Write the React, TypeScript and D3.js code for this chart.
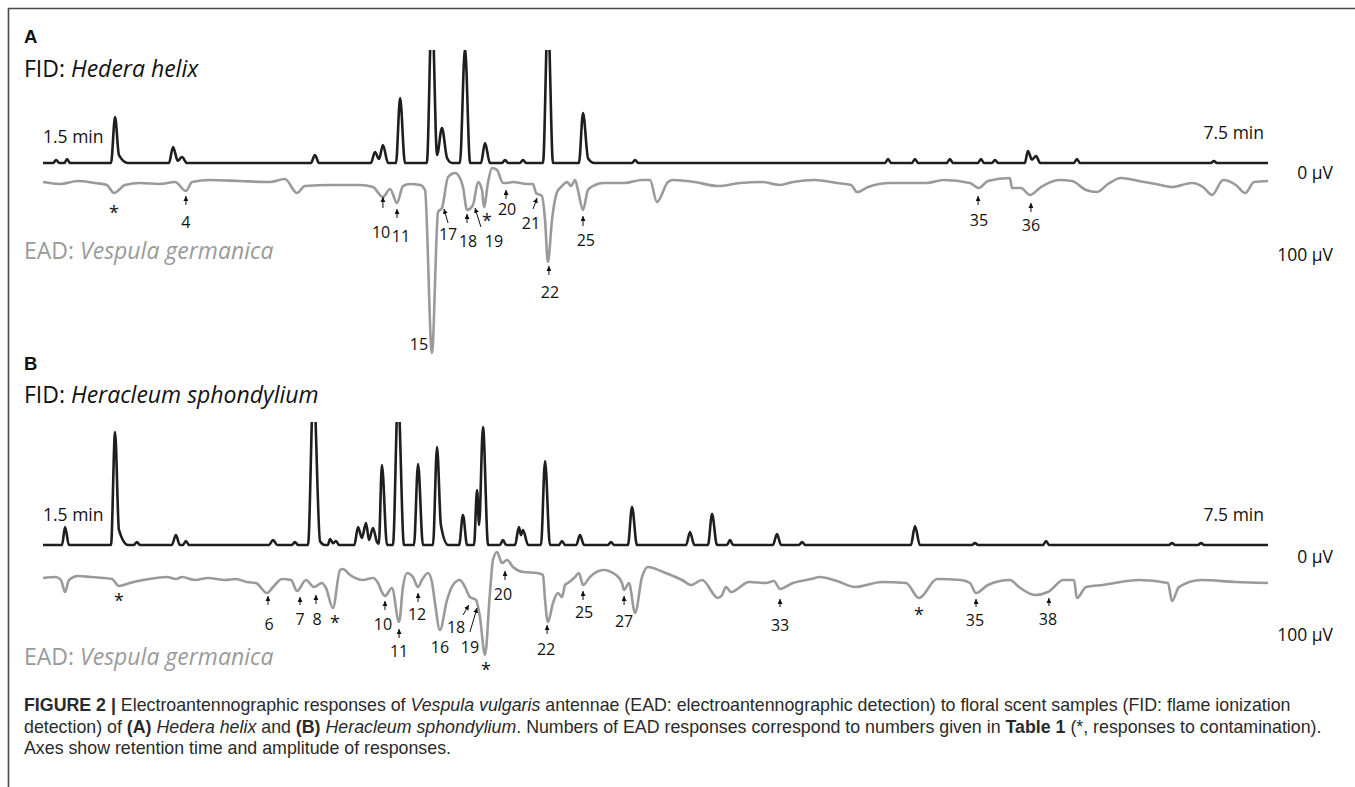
import * as d3 from 'd3';

type Pt = [number, number];
type Note = { label: string; at: Pt; from?: Pt; to?: Pt; anchor?: 'start' | 'middle' | 'end' };

const W = 1355;
const H = 787;

// retention time window (min)
const timeRange: Pt = [1.5, 7.5];
const eadTicks = [0, 100];

// FID signal, relative % (100 = top of the visible trace area)
const fidHedera: Pt[] = [
  [1.5, 0], [1.55, 0], [1.564, 2.7], [1.58, 0], [1.605, 0], [1.618, 3.5], [1.632, 0],
  [1.833, 0], [1.853, 40.7], [1.872, 7], [1.916, 0],
  [2.117, 0], [2.137, 14.2], [2.16, 2], [2.181, 5.3], [2.205, 0],
  [2.812, 0], [2.832, 7.1], [2.852, 0],
  [3.106, 0], [3.126, 9.7], [3.146, 3.5], [3.165, 15.9], [3.19, 0],
  [3.229, 0], [3.249, 57.5], [3.273, 0],
  [3.38, 0], [3.405, 141.6], [3.43, 7.1], [3.454, 31], [3.479, 4.4], [3.503, 0],
  [3.542, 0], [3.567, 101.8], [3.592, 0],
  [3.645, 0], [3.665, 17.7], [3.689, 0],
  [3.748, 0], [3.763, 2.7], [3.778, 0],
  [3.836, 0], [3.851, 2.7], [3.866, 0],
  [3.949, 0], [3.973, 132.7], [3.998, 0],
  [4.125, 0], [4.145, 44.2], [4.17, 4], [4.2, 0],
  [4.385, 0], [4.4, 2.7], [4.415, 0],
  [5.624, 0], [5.639, 3.5], [5.654, 0],
  [5.756, 0], [5.771, 3.5], [5.786, 0],
  [5.927, 0], [5.942, 3.5], [5.957, 0],
  [6.079, 0], [6.094, 3.5], [6.109, 0],
  [6.148, 0], [6.163, 2.7], [6.178, 0],
  [6.309, 0], [6.324, 10.6], [6.344, 3], [6.364, 6.2], [6.384, 0],
  [6.549, 0], [6.564, 3.5], [6.579, 0],
  [7.22, 0], [7.235, 1.8], [7.25, 0],
  [7.5, 0],
];

// EAD response, µV (positive = downward deflection)
const eadHedera: Pt[] = [
  [1.5, 11], [1.583, 13.4], [1.671, 9.8], [1.755, 12.2], [1.813, 14.6], [1.848, 24.4], [1.902, 14.6],
  [1.975, 12.2], [2.073, 13.4], [2.147, 11], [2.2, 22], [2.23, 11], [2.318, 8.5], [2.465, 9.8],
  [2.612, 11], [2.685, 7.3], [2.744, 24.4], [2.783, 15.9], [2.906, 14.6], [3.053, 14.6], [3.116, 17.1],
  [3.165, 29.3], [3.2, 19.5], [3.234, 36.6], [3.263, 15.9], [3.298, 13.4], [3.347, 14.6], [3.371, 20.7],
  [3.405, 219.6], [3.435, 47.6], [3.454, 42.7], [3.484, 4.9], [3.518, 0], [3.542, 6.1], [3.557, 17.1],
  [3.577, 45.1], [3.606, 39], [3.631, 11], [3.65, 20.7], [3.66, 41.5], [3.68, 11], [3.699, -6.1],
  [3.724, -3.7], [3.753, 12.2], [3.773, 12.2], [3.802, 11], [3.871, 13.4], [3.9, 13.4], [3.915, 24.4],
  [3.944, 28.1], [3.959, 57.3], [3.973, 108.6], [3.993, 57.3], [4.018, 23.2], [4.042, 15.9], [4.067, 11],
  [4.086, 15.9], [4.106, 8.5], [4.12, 20.7], [4.145, 45.1], [4.169, 20.7], [4.204, 14.6], [4.243, 12.2],
  [4.277, 12.2], [4.346, 12.2], [4.434, 8.5], [4.473, 8.5], [4.507, 35.4], [4.561, 11], [4.586, 8.5],
  [4.693, 11], [4.806, 15.9], [4.914, 12.2], [5.022, 11], [5.11, 14.6], [5.173, 11], [5.281, 8.5],
  [5.389, 12.2], [5.458, 14.6], [5.487, 23.2], [5.541, 17.1], [5.649, 12.2], [5.825, 12.2], [5.913, 8.5],
  [6.04, 12.2], [6.084, 18.3], [6.128, 9.8], [6.236, 6.1], [6.246, 18.3], [6.29, 18.3], [6.334, 26.8],
  [6.388, 17.1], [6.476, 8.5], [6.54, 9.8], [6.609, 20.7], [6.662, 23.2], [6.716, 13.4], [6.78, 6.1],
  [6.868, 9.8], [6.951, 13.4], [7.03, 17.1], [7.128, 12.2], [7.182, 17.1], [7.226, 26.8], [7.28, 8.5],
  [7.343, 14.6], [7.388, 24.4], [7.432, 11], [7.5, 9.8],
];

const fidHeracleum: Pt[] = [
  [1.5, 0], [1.593, 0], [1.608, 14.6], [1.627, 0],
  [1.833, 0], [1.853, 91.9], [1.872, 12.2], [1.916, 0],
  [1.945, 0], [1.96, 2.4], [1.975, 0],
  [2.131, 0], [2.151, 8.1], [2.17, 0], [2.185, 0], [2.2, 3.3], [2.215, 0],
  [2.607, 0], [2.627, 4.1], [2.647, 0],
  [2.719, 0], [2.734, 2.4], [2.749, 0],
  [2.798, 0], [2.825, 130], [2.857, 3], [2.88, 0],
  [2.895, 0], [2.906, 4.9], [2.92, 1.5], [2.935, 3.3], [2.95, 0],
  [3.025, 0], [3.043, 14.6], [3.062, 5.7], [3.082, 17.9], [3.097, 4.1], [3.116, 13.8], [3.136, 2.4],
  [3.145, 1], [3.16, 65], [3.185, 0],
  [3.214, 0], [3.239, 122], [3.268, 0],
  [3.317, 0], [3.337, 65.9], [3.361, 0],
  [3.41, 0], [3.43, 79.7], [3.449, 16], [3.484, 0],
  [3.538, 0], [3.557, 24.4], [3.577, 0],
  [3.611, 0], [3.626, 44.7], [3.636, 16.3], [3.655, 95.9], [3.68, 0],
  [3.738, 0], [3.753, 4.1], [3.768, 0],
  [3.812, 0], [3.831, 14.6], [3.841, 8], [3.851, 12.2], [3.876, 0],
  [3.939, 0], [3.959, 68.3], [3.983, 0],
  [4.027, 0], [4.042, 3.3], [4.057, 0],
  [4.112, 0], [4.13, 8.1], [4.15, 0],
  [4.267, 0], [4.282, 2.4], [4.297, 0],
  [4.365, 0], [4.385, 30.9], [4.409, 0],
  [4.65, 0], [4.669, 10.6], [4.69, 0],
  [4.757, 0], [4.777, 25.2], [4.801, 0],
  [4.85, 0], [4.865, 4.1], [4.88, 0],
  [5.075, 0], [5.095, 8.9], [5.115, 0],
  [5.203, 0], [5.218, 2.4], [5.233, 0],
  [5.751, 0], [5.771, 15.4], [5.795, 0],
  [6.05, 0], [6.065, 1.6], [6.08, 0],
  [6.398, 0], [6.413, 3.3], [6.428, 0],
  [7.015, 0], [7.03, 1.6], [7.045, 0],
  [7.157, 0], [7.172, 1.6], [7.187, 0],
  [7.5, 0],
];

const eadHeracleum: Pt[] = [
  [1.5, 26.9], [1.564, 25.6], [1.588, 29.5], [1.608, 44.9], [1.627, 29.5], [1.671, 24.4], [1.735, 25.6],
  [1.799, 26.9], [1.838, 28.2], [1.872, 37.2], [1.926, 33.3], [1.99, 29.5], [2.053, 26.9], [2.107, 25.6],
  [2.151, 28.2], [2.181, 25.6], [2.244, 29.5], [2.308, 26.9], [2.391, 29.5], [2.445, 28.2], [2.499, 32.1],
  [2.543, 33.3], [2.597, 46.2], [2.627, 38.5], [2.671, 28.2], [2.715, 29.5], [2.744, 43.6], [2.788, 29.5],
  [2.827, 38.5], [2.866, 33.3], [2.886, 39.7], [2.92, 65.4], [2.955, 16.7], [2.969, 15.4], [3.004, 23.1],
  [3.067, 29.5], [3.116, 26.9], [3.141, 33.3], [3.16, 44.9], [3.175, 50], [3.209, 39.7], [3.244, 83.3],
  [3.263, 38.5], [3.283, 20.5], [3.312, 25.6], [3.337, 38.5], [3.356, 29.5], [3.386, 20.5], [3.405, 32.1],
  [3.42, 59], [3.444, 93.6], [3.479, 55.1], [3.508, 35.9], [3.542, 29.5], [3.567, 38.5], [3.591, 51.3],
  [3.621, 55.1], [3.64, 76.9], [3.665, 125.6], [3.689, 46.2], [3.704, 3.8], [3.724, -6.4], [3.748, 7.7],
  [3.773, 3.8], [3.802, 12.8], [3.851, 19.2], [3.92, 20.5], [3.949, 23.1], [3.959, 55.1], [3.973, 83.3],
  [3.998, 59], [4.022, 46.2], [4.042, 51.3], [4.057, 35.9], [4.071, 33.3], [4.106, 25.6], [4.125, 20.5],
  [4.145, 35.9], [4.179, 25.6], [4.243, 16.7], [4.307, 23.1], [4.336, 33.3], [4.346, 42.3], [4.37, 33.3],
  [4.4, 71.8], [4.434, 25.6], [4.463, 12.8], [4.537, 19.2], [4.63, 29.5], [4.674, 35.9], [4.728, 29.5],
  [4.806, 52.6], [4.826, 48.7], [4.845, 38.5], [4.87, 44.9], [4.958, 32.1], [5.041, 33.3], [5.08, 30.8],
  [5.11, 41], [5.173, 33.3], [5.262, 28.2], [5.306, 25.6], [5.389, 30.8], [5.477, 38.5], [5.609, 32.1],
  [5.727, 33.3], [5.791, 52.6], [5.879, 28.2], [5.996, 29.5], [6.04, 33.3], [6.07, 46.2], [6.128, 35.9],
  [6.236, 29.5], [6.28, 38.5], [6.359, 48.7], [6.422, 44.9], [6.442, 41], [6.496, 29.5], [6.55, 29.5],
  [6.564, 52.6], [6.609, 38.5], [6.692, 35.9], [6.868, 29.5], [7.01, 33.3], [7.03, 56.4], [7.064, 38.5],
  [7.172, 29.5], [7.343, 32.1], [7.5, 33.3],
];

// response labels: text anchor and arrow in (min, µV)
const notesHedera: Note[] = [
  { label: '*', at: [1.848, 56.7] },
  { label: '4', at: [2.2, 67.1], from: [2.2, 39], to: [2.2, 28.1] },
  { label: '10', at: [3.156, 79.3], from: [3.165, 42.7], to: [3.165, 29.3] },
  { label: '11', at: [3.253, 84.2], from: [3.234, 54.9], to: [3.234, 43.9] },
  { label: '15', at: [3.386, 215.9], anchor: 'end' },
  { label: '17', at: [3.484, 81.7], from: [3.484, 61], to: [3.464, 43.9] },
  { label: '18', at: [3.582, 90.3], from: [3.577, 61], to: [3.577, 50] },
  { label: '19', at: [3.709, 90.3], from: [3.645, 65.9], to: [3.616, 42.7] },
  { label: '*', at: [3.675, 65.3] },
  { label: '20', at: [3.773, 51.2], from: [3.768, 31.7], to: [3.768, 20.7] },
  { label: '21', at: [3.89, 68.3], from: [3.9, 43.9], to: [3.92, 30.5] },
  { label: '22', at: [3.983, 152.5], from: [3.978, 124.4], to: [3.978, 113.5] },
  { label: '25', at: [4.159, 89.1], from: [4.145, 64.7], to: [4.145, 52.5] },
  { label: '35', at: [6.084, 64.7], from: [6.08, 39], to: [6.08, 28.1] },
  { label: '36', at: [6.339, 70.8], from: [6.339, 47.6], to: [6.339, 36.6] },
];

const notesHeracleum: Note[] = [
  { label: '*', at: [1.872, 64.7] },
  { label: '6', at: [2.607, 93.6], from: [2.602, 61.5], to: [2.602, 50] },
  { label: '7', at: [2.759, 87.2], from: [2.759, 61.5], to: [2.759, 51.3] },
  { label: '8', at: [2.842, 87.2], from: [2.837, 60.3], to: [2.837, 48.7] },
  { label: '*', at: [2.93, 92.3] },
  { label: '10', at: [3.165, 93.6], from: [3.175, 67.9], to: [3.175, 56.4] },
  { label: '11', at: [3.244, 128.2], from: [3.244, 103.8], to: [3.244, 92.3] },
  { label: '12', at: [3.332, 80.8], from: [3.337, 57.7], to: [3.337, 46.2] },
  { label: '16', at: [3.444, 123.1] },
  { label: '18', at: [3.523, 97.4], from: [3.557, 74.4], to: [3.586, 61.5] },
  { label: '19', at: [3.591, 123.1], from: [3.591, 96.2], to: [3.626, 65.4] },
  { label: '*', at: [3.67, 152.6] },
  { label: '20', at: [3.753, 55.1], from: [3.763, 29.5], to: [3.763, 17.9] },
  { label: '22', at: [3.964, 125.6], from: [3.969, 98.7], to: [3.969, 87.2] },
  { label: '25', at: [4.15, 78.2], from: [4.145, 55.1], to: [4.145, 43.6] },
  { label: '27', at: [4.346, 89.7], from: [4.346, 61.5], to: [4.346, 50] },
  { label: '33', at: [5.11, 94.9], from: [5.11, 64.1], to: [5.11, 53.8] },
  { label: '*', at: [5.791, 82] },
  { label: '35', at: [6.065, 88.5], from: [6.07, 64.1], to: [6.07, 53.8] },
  { label: '38', at: [6.422, 87.2], from: [6.427, 62.8], to: [6.427, 52.6] },
];

const FONT = "'Open Sans', 'Noto Sans', sans-serif";
const FID_COLOR = '#1e1e1e';
const EAD_COLOR = '#9a9a9a';

const x = d3.scaleLinear().domain(timeRange).range([43, 1268]);

interface Layout {
  fid: [number, number];
  ead: [number, number];
  letterY: number;
  titleY: number;
  eadTitleY: number;
  startY: number;
  endY: number;
}

interface PanelProps {
  id: string;
  letter: string;
  plant: string;
  fid: Pt[];
  ead: Pt[];
  notes: Note[];
  layout: Layout;
}

function Panel({ id, letter, plant, fid, ead, notes, layout }: PanelProps) {
  const fy = d3.scaleLinear().domain([0, 100]).range(layout.fid);
  const ey = d3.scaleLinear().domain([0, 100]).range(layout.ead);

  const fidLine = d3.line<Pt>().x((d) => x(d[0])).y((d) => fy(d[1])).curve(d3.curveMonotoneX);
  const eadLine = d3.line<Pt>().x((d) => x(d[0])).y((d) => ey(d[1])).curve(d3.curveMonotoneX);

  return (
    <g>
      <defs>
        <clipPath id={`clip-${id}`}>
          <rect x={0} y={fy(100)} width={W} height={400} />
        </clipPath>
      </defs>

      <text x={24} y={layout.letterY} fontFamily="'Liberation Sans', Arial, sans-serif" fontWeight="bold" fontSize={18.5} fill="#111">
        {letter}
      </text>
      <text x={24} y={layout.titleY} fontFamily={FONT} fontSize={23} fill="#111">
        FID: <tspan fontStyle="italic">{plant}</tspan>
      </text>
      <text x={24} y={layout.eadTitleY} fontFamily={FONT} fontSize={23} fill={EAD_COLOR}>
        EAD: <tspan fontStyle="italic">Vespula germanica</tspan>
      </text>

      <text x={x(timeRange[0])} y={layout.startY} fontFamily={FONT} fontSize={17.5} fill="#111">
        {timeRange[0]} min
      </text>
      <text x={x(timeRange[1]) - 4} y={layout.endY} textAnchor="end" fontFamily={FONT} fontSize={17.5} fill="#111">
        {timeRange[1]} min
      </text>
      {eadTicks.map((v) => (
        <text key={v} x={1333} y={ey(v) + 6} textAnchor="end" fontFamily={FONT} fontSize={17.5} fill="#111">
          {v} µV
        </text>
      ))}

      <path d={eadLine(ead) ?? ''} fill="none" stroke={EAD_COLOR} strokeWidth={2.6} strokeLinejoin="round" />
      <path
        d={fidLine(fid) ?? ''}
        fill="none"
        stroke={FID_COLOR}
        strokeWidth={2.6}
        strokeLinejoin="round"
        clipPath={`url(#clip-${id})`}
      />

      {notes.map((n, i) => (
        <g key={i}>
          {n.from && n.to && (
            <line
              x1={x(n.from[0])}
              y1={ey(n.from[1])}
              x2={x(n.to[0])}
              y2={ey(n.to[1])}
              stroke="#111"
              strokeWidth={1}
              markerEnd="url(#arrowhead)"
            />
          )}
          <text
            x={x(n.at[0])}
            y={ey(n.at[1])}
            textAnchor={n.anchor ?? 'middle'}
            fontFamily={FONT}
            fontSize={n.label === '*' ? 18 : 16}
            fill="#111"
          >
            {n.label}
          </text>
        </g>
      ))}
    </g>
  );
}

const capFont = "'Liberation Sans', Arial, Helvetica, sans-serif";

export default function App() {
  return (
    <div style={{ position: 'absolute', left: 0, top: 0 }}>
      <svg width={W} height={H} viewBox={`0 0 ${W} ${H}`} style={{ display: 'block', background: '#fff' }}>
        <defs>
          <marker
            id="arrowhead"
            viewBox="0 0 10 10"
            refX={10}
            refY={5}
            markerWidth={5}
            markerHeight={5}
            markerUnits="userSpaceOnUse"
            orient="auto"
          >
            <path d="M0,0 L10,5 L0,10 z" fill="#111" />
          </marker>
        </defs>

        <line x1={8} y1={8.5} x2={W} y2={8.5} stroke="#4a4a4a" strokeWidth={1.6} />
        <line x1={8.5} y1={8} x2={8.5} y2={H} stroke="#4a4a4a" strokeWidth={1.6} />

        <Panel
          id="a"
          letter="A"
          plant="Hedera helix"
          fid={fidHedera}
          ead={eadHedera}
          notes={notesHedera}
          layout={{ fid: [163, 50], ead: [173, 255], letterY: 43, titleY: 77, eadTitleY: 259, startY: 143, endY: 139 }}
        />
        <Panel
          id="b"
          letter="B"
          plant="Heracleum sphondylium"
          fid={fidHeracleum}
          ead={eadHeracleum}
          notes={notesHeracleum}
          layout={{ fid: [545, 422], ead: [557, 635], letterY: 370, titleY: 403, eadTitleY: 665, startY: 521, endY: 521 }}
        />

        <g fontFamily={capFont} fontSize={17.8} fill="#2a2a2a">
          <text x={24} y={711}>
            <tspan fontWeight="bold">FIGURE 2 | </tspan>Electroantennographic responses of{' '}
            <tspan fontStyle="italic">Vespula vulgaris</tspan> antennae (EAD: electroantennographic detection) to floral
            scent samples (FID: flame ionization
          </text>
          <text x={24} y={732.5}>
            detection) of <tspan fontWeight="bold">(A)</tspan> <tspan fontStyle="italic">Hedera helix</tspan> and{' '}
            <tspan fontWeight="bold">(B)</tspan> <tspan fontStyle="italic">Heracleum sphondylium</tspan>. Numbers of EAD
            responses correspond to numbers given in <tspan fontWeight="bold">Table 1</tspan> (*, responses to
            contamination).
          </text>
          <text x={24} y={754}>
            Axes show retention time and amplitude of responses.
          </text>
        </g>
      </svg>
    </div>
  );
}
